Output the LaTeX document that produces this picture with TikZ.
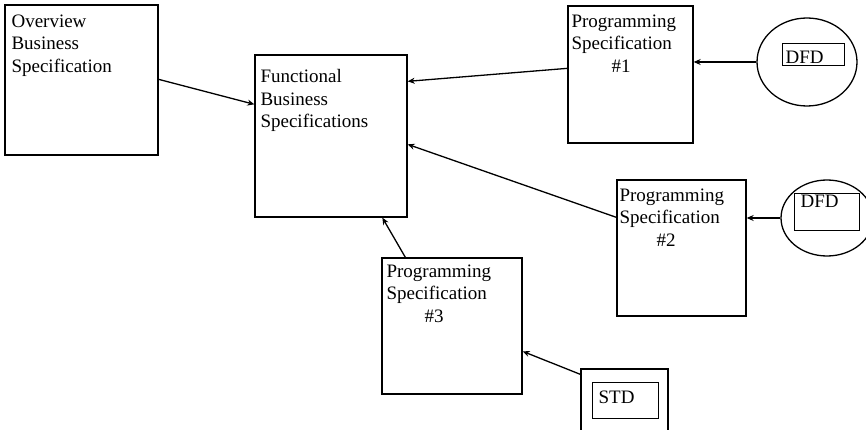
\documentclass[tikz,border=0pt]{standalone}
\usepackage{fontspec}
\setmainfont{Liberation Serif}
\usetikzlibrary{shapes.geometric,arrows.meta}
\begin{document}
\begin{tikzpicture}[x=1pt,y=-1pt,
  box/.style={draw,line width=1.3pt,rectangle,inner sep=0pt},
  oval/.style={draw,line width=1.3pt,ellipse,inner sep=0pt},
  txt/.style={anchor=north west,inner sep=0pt,align=left,font=\fontsize{19}{22.5}\selectfont},
  lbl/.style={draw,line width=1.3pt,rectangle,anchor=north west,inner ysep=0pt,align=left,font=\fontsize{19}{22.5}\selectfont},
  arr/.style={line width=1.3pt,-{Stealth[length=7pt,width=6pt]}}]
\useasboundingbox (0,0) rectangle (866,430);
\clip (0,0) rectangle (866,430);
% boxes
\node[box,minimum width=153pt,minimum height=150pt] (ov) at (81.5,80) {};
\node[box,minimum width=152pt,minimum height=162pt] (fn) at (331,136) {};
\node[box,minimum width=125pt,minimum height=137pt] (p1) at (630.5,74.5) {};
\node[box,minimum width=129pt,minimum height=136pt] (p2) at (681.5,248) {};
\node[box,minimum width=140pt,minimum height=136pt] (p3) at (452,326) {};
\node[oval,minimum width=100pt,minimum height=88pt] (d1) at (807,62) {};
\node[oval,minimum width=92pt,minimum height=76pt] (d2) at (827,218) {};
\node[box,minimum width=87pt,minimum height=80pt] (std) at (624.5,409) {};
% inner labels
\node[lbl,inner xsep=3pt,text width=56pt,text height=20pt,text depth=2pt] (l1) at (782,43) {DFD};
\node[lbl,inner xsep=6pt,text width=53pt,text height=14pt,text depth=23pt] (l2) at (794,193) {DFD};
\node[lbl,inner xsep=6pt,text width=54pt,text height=21pt,text depth=15pt] (l3) at (592,382) {STD};
% texts
\node[txt] (tov) at ([xshift=7pt,yshift=-10pt]ov.north west) {Overview\\Business\\Specification};
\node[txt] (tfn) at ([xshift=6pt,yshift=-15pt]fn.north west) {Functional\\Business\\Specifications};
\node[txt] (tp1) at ([xshift=4pt,yshift=-9pt]p1.north west) {Programming\\Specification\\\hspace*{40pt}\#1};
\node[txt] (tp2) at ([xshift=3pt,yshift=-9pt]p2.north west) {Programming\\Specification\\\hspace*{37pt}\#2};
\node[txt] (tp3) at ([xshift=5pt,yshift=-7pt]p3.north west) {Programming\\Specification\\\hspace*{38pt}\#3};
% connectors
\draw[arr] ([yshift=-75pt]ov.north east) -- ([yshift=-50pt]fn.north west);
\draw[arr] ([yshift=-63pt]p1.north west) -- ([yshift=-27pt]fn.north east);
\draw[arr] ([yshift=-38pt]p2.north west) -- ([yshift=-90pt]fn.north east);
\draw[arr] ([xshift=24pt]p3.north west) -- ([xshift=128pt]fn.south west);
\draw[arr] (d1.west) -- (d1.west -| p1.east);
\draw[arr] (d2.west) -- (d2.west -| p2.east);
\draw[arr] ([yshift=-6pt]std.north west) -- ([yshift=-94pt]p3.north east);
\end{tikzpicture}
\end{document}
